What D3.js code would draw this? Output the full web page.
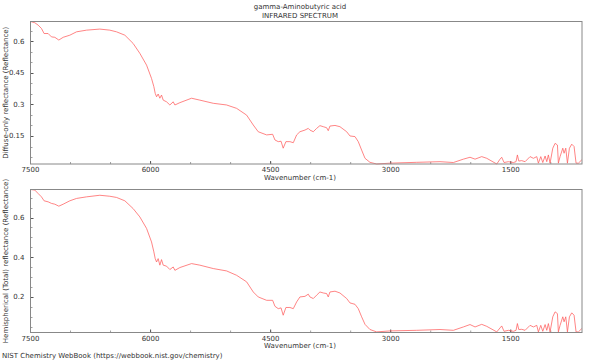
<!DOCTYPE html>
<html><head><meta charset="utf-8">
<script src="https://cdn.jsdelivr.net/npm/d3@7"></script>
<style>html,body{margin:0;padding:0;background:#fff;}svg{display:block;font-family:"DejaVu Sans",sans-serif;}</style>
</head><body>
<svg id="chart" width="600" height="360"></svg>
<script>
const title = "gamma-Aminobutyric acid";
const subtitle = "INFRARED SPECTRUM";
const xLabel = "Wavenumber (cm-1)";
const topYLabel = "Diffuse-only reflectance (Reflectance)";
const bottomYLabel = "Hemispherical (Total) reflectance (Reflectance)";
const footer = "NIST Chemistry WebBook (https://webbook.nist.gov/chemistry)";

const xDomain = [7500, 610];
const xTicks = [7500, 6000, 4500, 3000, 1500];
const topYDomain = [0.017, 0.693];
const topYTicks = [0.15, 0.3, 0.45, 0.6];
const bottomYDomain = [0.021, 0.741];
const bottomYTicks = [0.2, 0.4, 0.6];

const wavenumbers = [7500,7446,7405,7363,7330,7280,7238,7196,7146,7092,7009,6925,6800,6634,6509,6425,6321,6218,6134,6050,5988,5959,5942,5925,5905,5884,5863,5842,5800,5759,5717,5696,5634,5488,5384,5217,5050,4925,4800,4717,4655,4550,4475,4446,4405,4370,4343,4309,4259,4217,4175,4134,4071,4030,4009,3967,3925,3884,3842,3800,3780,3759,3696,3634,3550,3509,3446,3405,3363,3321,3259,3175,3009,2675,2384,2217,2092,2009,1946,1863,1800,1675,1634,1613,1584,1530,1467,1434,1417,1400,1363,1321,1259,1217,1175,1155,1125,1100,1071,1050,1030,1009,975,946,917,905,884,850,834,813,792,767,738,709,684,655,612];

const diffuse = [0.693,0.687,0.676,0.660,0.636,0.636,0.620,0.618,0.605,0.618,0.628,0.644,0.652,0.657,0.652,0.644,0.628,0.589,0.542,0.486,0.423,0.384,0.352,0.336,0.349,0.329,0.344,0.320,0.312,0.297,0.312,0.297,0.308,0.329,0.320,0.305,0.297,0.281,0.249,0.202,0.170,0.155,0.158,0.131,0.123,0.125,0.092,0.123,0.123,0.118,0.155,0.170,0.178,0.186,0.178,0.170,0.186,0.199,0.194,0.189,0.175,0.197,0.200,0.194,0.170,0.150,0.147,0.123,0.083,0.044,0.025,0.017,0.021,0.025,0.028,0.024,0.040,0.049,0.040,0.052,0.044,0.017,0.040,0.049,0.024,0.028,0.024,0.028,0.060,0.031,0.033,0.028,0.052,0.044,0.052,0.021,0.052,0.024,0.055,0.028,0.060,0.021,0.092,0.115,0.107,0.021,0.052,0.092,0.068,0.092,0.021,0.092,0.111,0.100,0.021,0.021,0.037];

const total = [0.741,0.738,0.721,0.704,0.684,0.679,0.671,0.667,0.657,0.667,0.684,0.696,0.704,0.712,0.707,0.701,0.684,0.645,0.603,0.545,0.477,0.427,0.393,0.376,0.393,0.360,0.388,0.360,0.355,0.338,0.351,0.334,0.348,0.368,0.360,0.343,0.331,0.309,0.276,0.225,0.200,0.183,0.183,0.153,0.141,0.145,0.108,0.147,0.147,0.141,0.175,0.200,0.203,0.214,0.200,0.192,0.209,0.225,0.220,0.217,0.200,0.225,0.229,0.220,0.192,0.170,0.163,0.141,0.100,0.062,0.036,0.024,0.029,0.032,0.036,0.032,0.049,0.061,0.049,0.062,0.052,0.024,0.044,0.054,0.027,0.032,0.027,0.032,0.066,0.036,0.037,0.032,0.057,0.049,0.057,0.024,0.057,0.027,0.061,0.032,0.066,0.024,0.100,0.125,0.116,0.024,0.057,0.100,0.075,0.100,0.024,0.100,0.120,0.108,0.024,0.024,0.041];

const svg = d3.select("#chart");
const textColor = "#333";
const frameColor = "#888";
const lineColor = "#ff5c5c";
const fs = 7;

svg.append("text").attr("x", 300).attr("y", 9).attr("text-anchor", "middle")
  .attr("font-size", fs).attr("fill", textColor).text(title);
svg.append("text").attr("x", 300).attr("y", 18).attr("text-anchor", "middle")
  .attr("font-size", fs).attr("fill", textColor).text(subtitle);
svg.append("text").attr("x", 2).attr("y", 357.5)
  .attr("font-size", fs).attr("fill", textColor).text(footer);

const left = 30.5, right = 582;
const x = d3.scaleLinear().domain(xDomain).range([left, right]);

function panel(top, bottom, yDomain, yTicks, values, yLabel, yMinorStep) {
  const y = d3.scaleLinear().domain(yDomain).range([bottom, top]);
  const g = svg.append("g");
  const minor = d3.range(Math.ceil(yDomain[0] / yMinorStep) * yMinorStep, yDomain[1], yMinorStep);
  g.selectAll(".ymin").data(minor).join("line")
    .attr("x1", left).attr("x2", left + 2)
    .attr("y1", d => Math.round(y(d)) + 0.5).attr("y2", d => Math.round(y(d)) + 0.5)
    .attr("stroke", frameColor).attr("stroke-width", 0.8);
  g.selectAll(".ymaj").data(yTicks).join("line")
    .attr("x1", left).attr("x2", left + 3)
    .attr("y1", d => Math.round(y(d)) + 0.5).attr("y2", d => Math.round(y(d)) + 0.5)
    .attr("stroke", "#555").attr("stroke-width", 1);
  g.selectAll(".ylab").data(yTicks).join("text")
    .attr("x", left - 6).attr("y", d => y(d) + 2.5).attr("text-anchor", "end")
    .attr("font-size", fs).attr("fill", textColor).text(d => d);
  const xmin = d3.range(7500, 600, -500);
  g.selectAll(".xmin").data(xmin).join("line")
    .attr("x1", d => x(d)).attr("x2", d => x(d))
    .attr("y1", bottom).attr("y2", bottom - 2)
    .attr("stroke", frameColor).attr("stroke-width", 0.8);
  g.selectAll(".xmaj").data(xTicks).join("line")
    .attr("x1", d => x(d)).attr("x2", d => x(d))
    .attr("y1", bottom).attr("y2", bottom - 3)
    .attr("stroke", "#555").attr("stroke-width", 1);
  g.selectAll(".xlab").data(xTicks).join("text")
    .attr("x", d => x(d)).attr("y", bottom + 8).attr("text-anchor", "middle")
    .attr("font-size", fs).attr("fill", textColor).text(d => d);
  g.append("text").attr("x", 300).attr("y", bottom + 15.5).attr("text-anchor", "middle")
    .attr("font-size", fs).attr("fill", textColor).text(xLabel);
  g.append("text")
    .attr("transform", `translate(8,${(top + bottom) / 2}) rotate(-90)`)
    .attr("text-anchor", "middle").attr("font-size", fs).attr("fill", textColor).text(yLabel);
  const line = d3.line().x((d, i) => x(wavenumbers[i])).y(d => y(d));
  g.append("path").datum(values).attr("d", line)
    .attr("fill", "none").attr("stroke", lineColor).attr("stroke-width", 0.75);
  g.append("rect").attr("x", left).attr("y", top).attr("width", right - left).attr("height", bottom - top)
    .attr("fill", "none").attr("stroke", frameColor).attr("stroke-width", 1);
}

panel(21.5, 164, topYDomain, topYTicks, diffuse, topYLabel, 0.05);
panel(189.5, 332.5, bottomYDomain, bottomYTicks, total, bottomYLabel, 0.05);
</script>
</body></html>
